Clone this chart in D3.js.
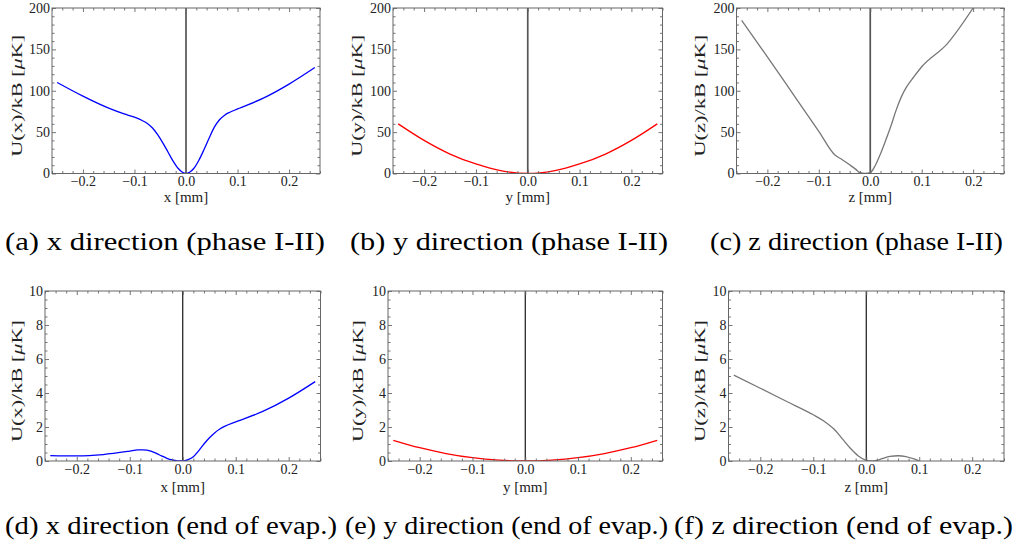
<!DOCTYPE html>
<html><head><meta charset="utf-8">
<script src="https://cdn.jsdelivr.net/npm/d3@7"></script>
<style>
body{margin:0;background:#fff;}
svg{display:block;}
</style></head>
<body>
<svg id="chart" width="1019" height="549"></svg>
<script>
// ---------- data ----------
const xTickValues = [-0.2, -0.1, 0, 0.1, 0.2];
const xTickLabels = ["\u22120.2", "\u22120.1", "0.0", "0.1", "0.2"];
const yTicksTop = [0, 50, 100, 150, 200];
const yTicksBottom = [0, 2, 4, 6, 8, 10];

// (a) x direction, phase I-II
const aX = [-0.25, -0.2, -0.15, -0.12, -0.1, -0.085, -0.075, -0.065, -0.055, -0.045, -0.035, -0.025, -0.015, -0.007, 0,
            0.007, 0.015, 0.025, 0.035, 0.045, 0.055, 0.065, 0.075, 0.085, 0.1, 0.15, 0.2, 0.25];
const aU = [110, 93.5, 79, 72, 68, 64, 60.5, 55, 47, 37, 26, 15, 6, 1.5, 0,
            1.5, 6, 16, 29, 43, 56, 65, 70.5, 74, 78, 91, 108, 128];
// (b) y direction, phase I-II
const bX = [-0.25, -0.2, -0.15, -0.1, -0.05, 0, 0.05, 0.1, 0.15, 0.2, 0.25];
const bU = [60, 40, 23.5, 11.5, 3.2, 0, 3.2, 11.5, 23.5, 40, 60];
// (c) z direction, phase I-II
const cX = [-0.25, -0.2, -0.15, -0.1, -0.068, -0.055, -0.04, -0.028, -0.02, -0.01, 0,
            0.01, 0.02, 0.03, 0.04, 0.05, 0.06, 0.07, 0.085, 0.1, 0.15, 0.2];
const cU = [185, 141, 96, 51, 22, 17, 10.5, 5, 1, 0, 1,
            10, 24, 40, 57, 76, 92, 104, 117, 129, 157, 200];
// (d) x direction, end of evaporation
const dX = [-0.25, -0.2, -0.15, -0.1, -0.085, -0.075, -0.06, -0.05, -0.04, -0.03, -0.02, -0.01, 0,
            0.01, 0.02, 0.03, 0.04, 0.05, 0.06, 0.07, 0.08, 0.1, 0.15, 0.2, 0.25];
const dU = [0.32, 0.3, 0.38, 0.58, 0.65, 0.66, 0.58, 0.45, 0.3, 0.16, 0.06, 0.01, 0,
            0.08, 0.25, 0.6, 1.0, 1.35, 1.65, 1.88, 2.05, 2.3, 2.9, 3.7, 4.67];
// (e) y direction, end of evaporation
const eX = [-0.25, -0.2, -0.15, -0.1, -0.05, 0, 0.05, 0.1, 0.15, 0.2, 0.25];
const eU = [1.22, 0.78, 0.44, 0.195, 0.05, 0, 0.05, 0.195, 0.44, 0.78, 1.22];
// (f) z direction, end of evaporation
const fX = [-0.25, -0.2, -0.15, -0.1, -0.08, -0.06, -0.045, -0.03, -0.015, 0,
            0.01, 0.02, 0.03, 0.045, 0.06, 0.075, 0.09, 0.1];
const fU = [5.05, 4.28, 3.5, 2.72, 2.35, 1.85, 1.3, 0.75, 0.3, 0.04,
            0, 0.04, 0.14, 0.27, 0.31, 0.26, 0.12, 0];

const captions = ["(a) x direction (phase I-II)", "(b) y direction (phase I-II)", "(c) z direction (phase I-II)",
                  "(d) x direction (end of evap.)", "(e) y direction (end of evap.)", "(f) z direction (end of evap.)"];
const xAxisLabels = ["x [mm]", "y [mm]", "z [mm]", "x [mm]", "y [mm]", "z [mm]"];
const yAxisLabels = ["U(x)/kB [", "U(y)/kB [", "U(z)/kB [", "U(x)/kB [", "U(y)/kB [", "U(z)/kB ["];

// ---------- layout ----------
const FONT = "Liberation Serif";
const panels = [
  {L:52,   T:8,   R:320,   B:173.5, xs:aX, ys:aU, col:"#0000ff", yMax:200, yT:yTicksTop,    yMinor:10,  ylx:22,  zc:"#555", zw:1.7, capX:5,   capW:320},
  {L:393,  T:8,   R:662.5, B:173.5, xs:bX, ys:bU, col:"#ff0000", yMax:200, yT:yTicksTop,    yMinor:10,  ylx:362, zc:"#555", zw:1.7, capX:350, capW:318},
  {L:736.5,T:8,   R:1004,  B:173.5, xs:cX, ys:cU, col:"#777777", yMax:200, yT:yTicksTop,    yMinor:10,  ylx:705, zc:"#555", zw:1.7, capX:710, capW:293},
  {L:45,   T:291, R:320.5, B:461,   xs:dX, ys:dU, col:"#0000ff", yMax:10,  yT:yTicksBottom, yMinor:0.5, ylx:22,  zc:"#000", zw:1.1, capX:5,   capW:332},
  {L:388,  T:291, R:662.5, B:461,   xs:eX, ys:eU, col:"#ff0000", yMax:10,  yT:yTicksBottom, yMinor:0.5, ylx:363, zc:"#000", zw:1.1, capX:345, capW:323},
  {L:728.5,T:291, R:1004,  B:461,   xs:fX, ys:fU, col:"#777777", yMax:10,  yT:yTicksBottom, yMinor:0.5, ylx:705, zc:"#000", zw:1.1, capX:674, capW:339}
];

const svg = d3.select("#chart");
const frameCol = "#666";
const labelCol = "#222";

function minorRange(a, b, step){
  const out = [];
  const n = Math.round((b - a) / step);
  for (let i = 0; i <= n; i++) out.push(+(a + i*step).toFixed(6));
  return out;
}

panels.forEach((p, i) => {
  const top = i < 3;
  const x = d3.scaleLinear().domain([-0.26, 0.26]).range([p.L, p.R]);
  const y = d3.scaleLinear().domain([0, p.yMax]).range([p.B, p.T]);
  const g = svg.append("g");

  const cid = "clip" + i;
  svg.append("clipPath").attr("id", cid).append("rect")
    .attr("x", p.L).attr("y", p.T).attr("width", p.R - p.L).attr("height", p.B - p.T);

  // vertical zero line
  g.append("line").attr("x1", x(0)).attr("x2", x(0)).attr("y1", p.T).attr("y2", p.B)
    .attr("stroke", p.zc).attr("stroke-width", p.zw);

  // curve
  const line = d3.line().x((d, k) => x(p.xs[k])).y(d => y(d)).curve(d3.curveMonotoneX);
  g.append("path").datum(p.ys).attr("d", line).attr("fill", "none")
    .attr("stroke", p.col).attr("stroke-width", 1.3).attr("clip-path", `url(#${cid})`);

  const xMinor = minorRange(-0.26, 0.26, 0.02).filter(v => !xTickValues.some(t => Math.abs(t - v) < 1e-6));
  const yMinor = minorRange(0, p.yMax, p.yMinor).filter(v => !p.yT.some(t => Math.abs(t - v) < 1e-6));

  function styleAxis(sel){
    sel.attr("font-family", FONT).attr("font-size", 14);
    sel.select(".domain").remove();
    sel.selectAll(".tick line").attr("stroke", frameCol).attr("stroke-width", 0.9);
    sel.selectAll("text").attr("fill", labelCol);
  }

  styleAxis(g.append("g").attr("transform", `translate(0,${p.B})`)
    .call(d3.axisBottom(x).tickValues(xTickValues).tickFormat((d, k) => xTickLabels[k]).tickSizeInner(-4).tickSizeOuter(0).tickPadding(3)));
  styleAxis(g.append("g").attr("transform", `translate(0,${p.B})`)
    .call(d3.axisBottom(x).tickValues(xMinor).tickFormat("").tickSizeInner(-2.5).tickSizeOuter(0)));
  styleAxis(g.append("g").attr("transform", `translate(0,${p.T})`)
    .call(d3.axisTop(x).tickValues(xTickValues).tickFormat("").tickSizeInner(-4).tickSizeOuter(0)));
  styleAxis(g.append("g").attr("transform", `translate(0,${p.T})`)
    .call(d3.axisTop(x).tickValues(xMinor).tickFormat("").tickSizeInner(-2.5).tickSizeOuter(0)));
  styleAxis(g.append("g").attr("transform", `translate(${p.L},0)`)
    .call(d3.axisLeft(y).tickValues(p.yT).tickFormat(d3.format("d")).tickSizeInner(-4).tickSizeOuter(0).tickPadding(2)));
  styleAxis(g.append("g").attr("transform", `translate(${p.L},0)`)
    .call(d3.axisLeft(y).tickValues(yMinor).tickFormat("").tickSizeInner(-2.5).tickSizeOuter(0)));
  styleAxis(g.append("g").attr("transform", `translate(${p.R},0)`)
    .call(d3.axisRight(y).tickValues(p.yT).tickFormat("").tickSizeInner(-4).tickSizeOuter(0)));
  styleAxis(g.append("g").attr("transform", `translate(${p.R},0)`)
    .call(d3.axisRight(y).tickValues(yMinor).tickFormat("").tickSizeInner(-2.5).tickSizeOuter(0)));

  // frame
  g.append("rect").attr("x", p.L).attr("y", p.T).attr("width", p.R - p.L).attr("height", p.B - p.T)
    .attr("fill", "none").attr("stroke", frameCol).attr("stroke-width", 1);

  // x label
  g.append("text").attr("x", (p.L + p.R) / 2).attr("y", p.B + (top ? 28.5 : 31))
    .attr("text-anchor", "middle").attr("font-size", 15).attr("font-family", FONT)
    .attr("fill", labelCol).text(xAxisLabels[i]);

  // y label
  const cy = (p.T + p.B) / 2 + 5;
  const yl = g.append("text").attr("transform", `translate(${p.ylx},${cy}) rotate(-90)`)
    .attr("text-anchor", "middle").attr("font-size", 15.5).attr("font-family", FONT)
    .attr("fill", labelCol).attr("textLength", 122).attr("lengthAdjust", "spacingAndGlyphs");
  yl.append("tspan").text(yAxisLabels[i]);
  yl.append("tspan").attr("font-style", "italic").text("\u03bc");
  yl.append("tspan").text("K]");

  // caption
  svg.append("text").attr("x", p.capX).attr("y", top ? 250 : 534)
    .attr("font-size", 26).attr("font-family", FONT).attr("fill", "#000")
    .attr("textLength", p.capW).attr("lengthAdjust", "spacingAndGlyphs")
    .text(captions[i]);
});
</script>
</body></html>
